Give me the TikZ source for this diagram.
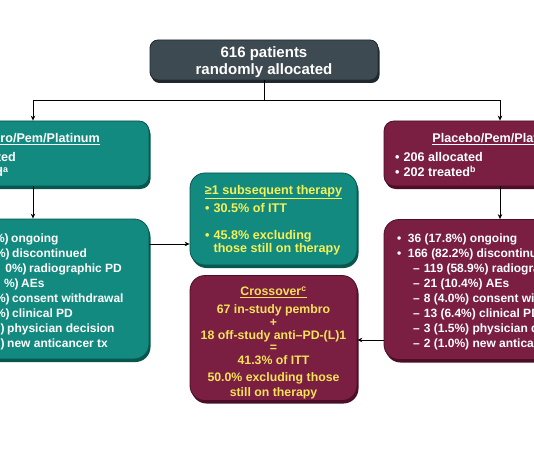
\documentclass[tikz,border=0pt]{standalone}
\usepackage{fontspec}
\setmainfont{Liberation Sans}
\usetikzlibrary{arrows.meta,shadows}
\definecolor{tealf}{RGB}{18,138,127}
\definecolor{teald}{RGB}{8,86,78}
\definecolor{maroonf}{RGB}{122,30,66}
\definecolor{maroond}{RGB}{76,14,38}
\definecolor{slatef}{RGB}{62,74,82}
\definecolor{slated}{RGB}{32,40,46}
\definecolor{ylw}{RGB}{246,240,88}
\definecolor{gold}{RGB}{246,226,90}
\begin{document}
\begin{tikzpicture}[x=1pt,y=-1pt,
  box/.style={rectangle, inner sep=0pt, line width=0.8pt},
  tealbox/.style={box, fill=tealf, draw=teald, drop shadow={shadow xshift=1.5pt, shadow yshift=-3pt, fill=teald, opacity=1}},
  maroonbox/.style={box, fill=maroonf, draw=maroond, drop shadow={shadow xshift=1.5pt, shadow yshift=-3pt, fill=maroond, opacity=1}},
  slatebox/.style={box, fill=slatef, draw=slated, drop shadow={shadow xshift=1.5pt, shadow yshift=-3pt, fill=slated, opacity=1}},
  wtxt/.style={text=white, inner sep=0pt, align=left, font=\bfseries\fontsize{12.6}{15}\selectfont},
  ltxt/.style={text=white, inner sep=0pt, align=left, font=\bfseries\fontsize{12}{15}\selectfont},
  arr/.style={-{Stealth[length=5pt,width=4.5pt]}, line width=0.7pt, black},
  ln/.style={line width=0.7pt, black}]
\useasboundingbox (0,0) rectangle (534,462);
\fill[white] (0,0) rectangle (534,462);
\clip (0,0) rectangle (534,462);

% boxes
\node[slatebox, rounded corners=8pt, minimum width=228pt, minimum height=40pt] (top) at (264,60) {};
\node[text=white, inner sep=0pt, align=center, anchor=base, font=\bfseries\fontsize{15}{17.5}\selectfont] (toptxt) at (264,75)
      {616 patients\\randomly allocated};
\node[tealbox, rounded corners=10pt, minimum width=232pt, minimum height=65pt] (UL) at (33,153.5) {};
\node[maroonbox, rounded corners=10pt, minimum width=232pt, minimum height=65pt] (UR) at (500,153.5) {};
\node[tealbox, rounded corners=15pt, minimum width=232pt, minimum height=140pt] (LL) at (33,289) {};
\node[maroonbox, rounded corners=15pt, minimum width=232pt, minimum height=140pt] (LR) at (500,289.5) {};
\node[tealbox, rounded corners=15pt, minimum width=167pt, minimum height=92pt] (ST) at (273.5,219) {};
\node[maroonbox, rounded corners=15pt, minimum width=167pt, minimum height=125pt] (CO) at (273.5,338) {};

% connectors
\coordinate (jn) at (264,100);
\draw[ln] (top.south) -- (jn);
\draw[arr] (jn) -| (UL.north);
\draw[arr] (jn) -| (UR.north);
\draw[arr] (UL.south) -- (LL.north);
\draw[arr] (UR.south) -- (LR.north);
\draw[arr] (LL.east |- 0,244) -- (ST.west |- 0,244);
\draw[arr] (LR.west |- 0,340) -- (CO.east |- 0,340);

% upper left text
\node[wtxt, anchor=base] (ULt) at (33,142.5) {\underline{Pembro/Pem/Platinum}};
\node[wtxt, anchor=base west] (ULb) at (-72,176.5) {•\hspace*{4pt}410 allocated\\•\hspace*{4pt}405 treated\textsuperscript{a}};

% upper right text
\node[wtxt, anchor=base] (URt) at (500,142.5) {\underline{Placebo/Pem/Platinum}};
\node[wtxt, anchor=base west] (URb) at (395,176.5) {•\hspace*{4pt}206 allocated\\•\hspace*{4pt}202 treated\textsuperscript{b}};

% lower left text (cut by the picture's left edge)
\node[ltxt, anchor=base west] (LLt) at (0,347.3) {%
\hspace*{11pt}\llap{\%)\hspace{2.5pt}}ongoing\\
\hspace*{12pt}\llap{\%)\hspace{2.5pt}}discontinued\\
\hspace*{29pt}\llap{0\%)\hspace{2.5pt}}radiographic PD\\
\hspace*{21pt}\llap{\%)\hspace{2.5pt}}AEs\\
\hspace*{12pt}\llap{\%)\hspace{2.5pt}}consent withdrawal\\
\hspace*{12pt}\llap{\%)\hspace{2.5pt}}clinical PD\\
\hspace*{7pt}\llap{)\hspace{2.5pt}}physician decision\\
\hspace*{7pt}\llap{)\hspace{2.5pt}}new anticancer tx};

% lower right text
\node[ltxt, anchor=base west] (LRt) at (397,347.3) {%
•\hspace*{6.5pt}36 (17.8\%) ongoing\\
•\hspace*{6.5pt}166 (82.2\%) discontinued\\
\hspace*{16pt}–\hspace*{4pt}119 (58.9\%) radiographic PD\\
\hspace*{16pt}–\hspace*{4pt}21 (10.4\%) AEs\\
\hspace*{16pt}–\hspace*{4pt}8 (4.0\%) consent withdrawal\\
\hspace*{16pt}–\hspace*{4pt}13 (6.4\%) clinical PD\\
\hspace*{16pt}–\hspace*{4pt}3 (1.5\%) physician decision\\
\hspace*{16pt}–\hspace*{4pt}2 (1.0\%) new anticancer tx};

% subsequent therapy box text
\node[inner sep=0pt, text=ylw, anchor=base, font=\bfseries\fontsize{12.6}{13}\selectfont] (STt) at (273.5,194.5)
  {\underline{≥1 subsequent therapy}};
\node[inner sep=0pt, text=ylw, anchor=base west, align=left, font=\bfseries\fontsize{12.6}{13}\selectfont] (STb) at (205,252.5)
  {•\hspace*{4pt}30.5\% of ITT\\[14pt]•\hspace*{4pt}45.8\% excluding\\\hspace*{8.4pt}those still on therapy};

% crossover box text
\node[inner sep=0pt, text=gold, anchor=base, align=center, font=\bfseries\fontsize{12.3}{13}\selectfont] (COt) at (273.5,396)
  {\underline{Crossover\textsuperscript{c}}\\[5pt]
   67 in-study pembro\\
   +\\
   18 off-study anti–PD-(L)1\\[-1pt]
   =\\
   41.3\% of ITT\\[3.5pt]
   50.0\% excluding those\\[2pt]
   still on therapy};
\end{tikzpicture}
\end{document}
